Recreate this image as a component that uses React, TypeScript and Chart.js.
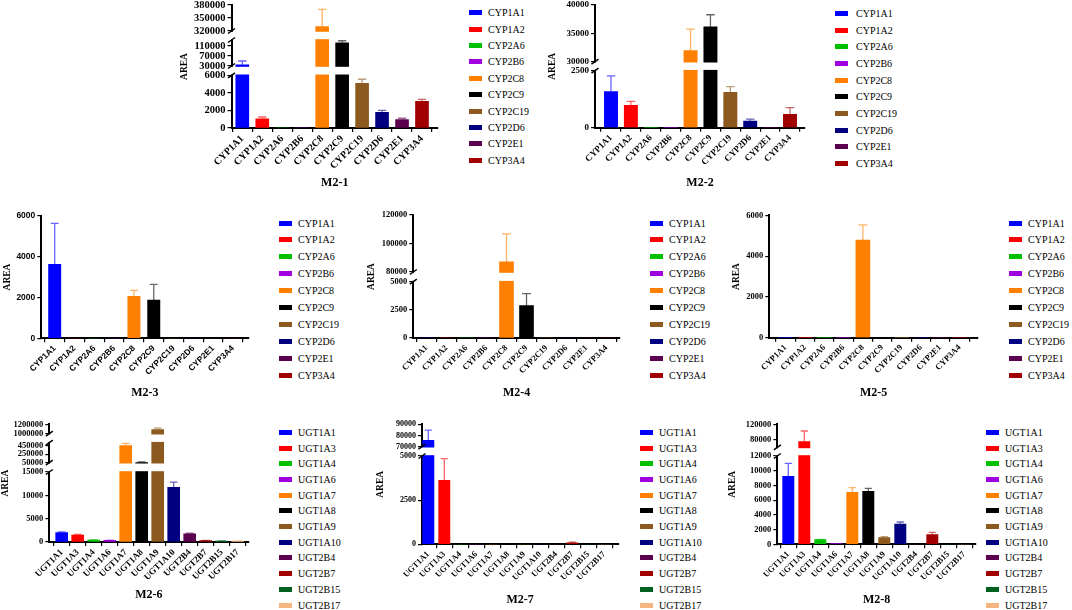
import React, { useEffect, useRef } from "react";
import { Chart, registerables, LinearScale } from "chart.js";

Chart.register(...registerables);

// ---------- data ----------
const cypGenes = ["CYP1A1", "CYP1A2", "CYP2A6", "CYP2B6", "CYP2C8", "CYP2C9", "CYP2C19", "CYP2D6", "CYP2E1", "CYP3A4"];
const ugtGenes = ["UGT1A1", "UGT1A3", "UGT1A4", "UGT1A6", "UGT1A7", "UGT1A8", "UGT1A9", "UGT1A10", "UGT2B4", "UGT2B7", "UGT2B15", "UGT2B17"];

const cypColors = ["#0000FF", "#FF0000", "#00C000", "#A000E0", "#FF8000", "#000000", "#8C5A1E", "#000080", "#5C0050", "#A00000"];
const ugtColors = ["#0000FF", "#FF0000", "#00C000", "#A000E0", "#FF8000", "#000000", "#8C5A1E", "#000080", "#5C0050", "#A00000", "#006020", "#F4B67E"];

const m21Area = [35000, 1050, 0, 0, 330000, 123000, 5100, 1770, 960, 3040];
const m21Sd = [15000, 200, 0, 0, 40000, 8000, 450, 230, 150, 230];
const m21Ticks = [0, 2000, 4000, 6000, 30000, 70000, 110000, 320000, 350000, 380000];
const m21Ranges = [[0, 6000], [30000, 134000], [320000, 380000]];

const m22Area = [1580, 980, 0, 0, 31940, 36170, 1550, 285, 0, 590];
const m22Sd = [690, 175, 0, 0, 3820, 2110, 250, 95, 0, 290];
const m22Ticks = [0, 2500, 30000, 35000, 40000];
const m22Ranges = [[0, 2500], [30000, 40000]];

const m23Area = [3620, 0, 0, 0, 2054, 1875, 0, 0, 0, 0];
const m23Sd = [2005, 0, 0, 0, 294, 766, 0, 0, 0, 0];
const m23Ticks = [0, 2000, 4000, 6000];
const m23Ranges = [[0, 6000]];

const m24Area = [0, 0, 0, 0, 87060, 2870, 0, 0, 0, 0];
const m24Sd = [0, 0, 0, 0, 19700, 1065, 0, 0, 0, 0];
const m24Ticks = [0, 2500, 5000, 80000, 100000, 120000];
const m24Ranges = [[0, 5000], [80000, 120000]];

const m25Area = [0, 0, 0, 0, 4790, 0, 0, 0, 0, 0];
const m25Sd = [0, 0, 0, 0, 736, 0, 0, 0, 0, 0];
const m25Ticks = [0, 2000, 4000, 6000];
const m25Ranges = [[0, 6000]];

const m26Area = [2000, 1500, 430, 350, 450000, 54000, 1090000, 11700, 1750, 290, 210, 200];
const m26Sd = [150, 150, 60, 50, 55000, 12000, 28000, 1150, 120, 40, 50, 40];
const m26Ticks = [0, 5000, 10000, 15000, 50000, 250000, 450000, 1000000, 1200000];
const m26Ranges = [[0, 15000], [50000, 520000], [1000000, 1200000]];

const m27Area = [75760, 3620, 0, 0, 0, 0, 0, 0, 0, 80, 0, 0];
const m27Sd = [9090, 1230, 0, 0, 0, 0, 0, 0, 0, 40, 0, 0];
const m27Ticks = [0, 2500, 5000, 70000, 80000, 90000];
const m27Ranges = [[0, 5000], [70000, 90000]];

const m28Area = [9240, 74800, 630, 45, 7060, 7200, 900, 2760, 0, 1310, 0, 0];
const m28Sd = [1760, 27800, 40, 0, 640, 400, 140, 270, 0, 320, 0, 0];
const m28Ticks = [0, 2000, 4000, 6000, 8000, 10000, 12000, 80000, 120000];
const m28Ranges = [[0, 12000], [60000, 120000]];

// ---------- layout ----------
const panels = [
  { title: "M2-1", genes: cypGenes, colors: cypColors, area: m21Area, sd: m21Sd, ticks: m21Ticks, ranges: m21Ranges,
    axisX: 231.5, rightX: 438, topY: 5, zeroY: 128, segPx: [[128, 75.3], [66, 40], [31, 5]],
    c0: 242.3, cLast: 422, barW: 13, areaX: 185, titleY: 183, tickSize: 10.5, labelSize: 10, sans: false,
    legend: { boxX: 469, textX: 488, y0: 12.7, dy: 16.4 } },
  { title: "M2-2", genes: cypGenes, colors: cypColors, area: m22Area, sd: m22Sd, ticks: m22Ticks, ranges: m22Ranges,
    axisX: 595, rightX: 805, topY: 5, zeroY: 127.7, segPx: [[127.7, 70.7], [61.7, 5]],
    c0: 611, cLast: 790, barW: 13.3, areaX: 553, titleY: 183, tickSize: 9, labelSize: 9, sans: false,
    legend: { boxX: 835, textX: 856, y0: 13.3, dy: 16.7 } },
  { title: "M2-3", genes: cypGenes, colors: cypColors, area: m23Area, sd: m23Sd, ticks: m23Ticks, ranges: m23Ranges,
    axisX: 41.3, rightX: 248.3, topY: 215.7, zeroY: 338.3, segPx: [[338.3, 215.7]],
    c0: 54.7, cLast: 233, barW: 12.3, areaX: 8, titleY: 393, tickSize: 8.5, labelSize: 8.5, sans: true,
    legend: { boxX: 279, textX: 298, y0: 223, dy: 16.9 } },
  { title: "M2-4", genes: cypGenes, colors: cypColors, area: m24Area, sd: m24Sd, ticks: m24Ticks, ranges: m24Ranges,
    axisX: 413.3, rightX: 620, topY: 215, zeroY: 338, segPx: [[338, 281.7], [272, 215]],
    c0: 426.5, cLast: 606.5, barW: 14, areaX: 372, titleY: 393, tickSize: 8.5, labelSize: 8.5, sans: false,
    legend: { boxX: 650, textX: 669, y0: 223, dy: 16.9 } },
  { title: "M2-5", genes: cypGenes, colors: cypColors, area: m25Area, sd: m25Sd, ticks: m25Ticks, ranges: m25Ranges,
    axisX: 769.3, rightX: 978, topY: 215.3, zeroY: 337.7, segPx: [[337.7, 215.3]],
    c0: 785.5, cLast: 959.6, barW: 14, areaX: 737, titleY: 393, tickSize: 8.5, labelSize: 8.5, sans: false,
    legend: { boxX: 1009, textX: 1028, y0: 223, dy: 16.9 } },
  { title: "M2-6", genes: ugtGenes, colors: ugtColors, area: m26Area, sd: m26Sd, ticks: m26Ticks, ranges: m26Ranges,
    axisX: 49.3, rightX: 248.3, topY: 424.3, zeroY: 542, segPx: [[542, 472], [462.7, 442.7], [433.7, 424.3]],
    c0: 61.7, cLast: 237.7, barW: 12, areaX: 6, titleY: 595, tickSize: 8.5, labelSize: 9, sans: false,
    legend: { boxX: 279, textX: 298, y0: 432.3, dy: 15.7 } },
  { title: "M2-7", genes: ugtGenes, colors: ugtColors, area: m27Area, sd: m27Sd, ticks: m27Ticks, ranges: m27Ranges,
    axisX: 422, rightX: 618.3, topY: 424.3, zeroY: 544.3, segPx: [[544.3, 456], [446.7, 424.3]],
    c0: 428.3, cLast: 604.3, barW: 11.3, areaX: 381, titleY: 600, tickSize: 8, labelSize: 8.5, sans: false,
    legend: { boxX: 640, textX: 659, y0: 432.3, dy: 15.7 } },
  { title: "M2-8", genes: ugtGenes, colors: ugtColors, area: m28Area, sd: m28Sd, ticks: m28Ticks, ranges: m28Ranges,
    axisX: 777.3, rightX: 976, topY: 424.3, zeroY: 544.3, segPx: [[544.3, 456], [447.4, 424.3]],
    c0: 788.3, cLast: 964.3, barW: 11.3, areaX: 733, titleY: 599.5, tickSize: 8.5, labelSize: 8.5, sans: false,
    legend: { boxX: 986, textX: 1005, y0: 432.3, dy: 15.7 } },
];

const SERIF = "'Liberation Serif', 'Times New Roman', Times, serif";
const SANS = "'Liberation Sans', Arial, Helvetica, sans-serif";

// ---------- broken (segmented) linear scale ----------
class BrokenLinearScale extends (LinearScale as any) {
  static id = "brokenLinear";
  static defaults = { ...(LinearScale as any).defaults };

  _knots() {
    const o: any = this.options;
    const pts: number[][] = [];
    for (let i = 0; i < o.segMin.length; i++) {
      pts.push([o.segMin[i], o.segFrom[i]]);
      pts.push([o.segMax[i], o.segTo[i]]);
    }
    return pts;
  }
  determineDataLimits() {
    const o: any = this.options;
    this.min = o.segMin[0];
    this.max = o.segMax[o.segMax.length - 1];
  }
  buildTicks() {
    const o: any = this.options;
    return o.tickValues.map((v: number) => ({ value: v }));
  }
  getPixelForValue(value: number) {
    const pts = this._knots();
    let k = 0;
    while (k < pts.length - 2 && value > pts[k + 1][0]) k++;
    const [v0, f0] = pts[k];
    const [v1, f1] = pts[k + 1];
    const f = v1 === v0 ? f0 : f0 + ((value - v0) * (f1 - f0)) / (v1 - v0);
    return this.bottom - f * (this.bottom - this.top);
  }
  getValueForPixel(pixel: number) {
    const f = (this.bottom - pixel) / (this.bottom - this.top);
    const pts = this._knots();
    let k = 0;
    while (k < pts.length - 2 && f > pts[k + 1][1]) k++;
    const [v0, f0] = pts[k];
    const [v1, f1] = pts[k + 1];
    return f1 === f0 ? v0 : v0 + ((f - f0) * (v1 - v0)) / (f1 - f0);
  }
}
Chart.register(BrokenLinearScale as any);

function hexToRgba(hex: string, a: number) {
  const n = parseInt(hex.slice(1), 16);
  return `rgba(${(n >> 16) & 255},${(n >> 8) & 255},${n & 255},${a})`;
}

const overlayPlugin = {
  id: "brokenOverlay",
  afterDatasetsDraw(chart: any, _args: any, opts: any) {
    const ctx = chart.ctx;
    const y = chart.scales.y;
    const area = chart.chartArea;
    const o = y.options;
    const segMin = o.segMin;
    const segMax = o.segMax;
    ctx.save();
    // white gaps between segments
    for (let i = 0; i < segMin.length - 1; i++) {
      const yl = y.getPixelForValue(segMax[i]);
      const yh = y.getPixelForValue(segMin[i + 1]);
      ctx.fillStyle = "#ffffff";
      ctx.fillRect(area.left - 2.5, yh + 0.8, area.right - area.left + 5, yl - yh - 1.6);
    }
    // error bars (upper)
    const meta = chart.getDatasetMeta(0);
    const vals = opts.values;
    const sds = opts.errors;
    const cols = opts.colors;
    meta.data.forEach((bar: any, i: number) => {
      const v = vals[i];
      const e = sds[i];
      if (!v || !e) return;
      const y1 = y.getPixelForValue(v);
      const y2 = y.getPixelForValue(v + e);
      const half = opts.cap;
      ctx.strokeStyle = hexToRgba(cols[i], 0.6);
      ctx.lineWidth = 1.3;
      ctx.beginPath();
      ctx.moveTo(bar.x, y1);
      ctx.lineTo(bar.x, y2);
      ctx.moveTo(bar.x - half, y2);
      ctx.lineTo(bar.x + half, y2);
      ctx.stroke();
    });
    // break marks on the axis
    ctx.strokeStyle = "#000";
    ctx.lineWidth = 1.5;
    for (let i = 0; i < segMin.length - 1; i++) {
      const ys = [y.getPixelForValue(segMax[i]), y.getPixelForValue(segMin[i + 1])];
      ys.forEach((yy) => {
        ctx.beginPath();
        ctx.moveTo(area.left - 3.5, yy + 2.5);
        ctx.lineTo(area.left + 3.5, yy - 2.5);
        ctx.stroke();
      });
    }
    ctx.restore();
  },
};

function Panel({ p }: { p: any }) {
  const ref = useRef<HTMLCanvasElement | null>(null);

  const yTitleLH = 9.5 * 1.2;
  const xTitleLH = 12 * 1.2;
  const canvasLeft = Math.floor(p.areaX - yTitleLH / 2);
  const canvasTop = Math.floor(p.topY - 10);
  const xScaleBottom = p.titleY + xTitleLH / 2;
  const width = Math.ceil(p.rightX + 4 - canvasLeft);
  const height = Math.ceil(xScaleBottom + 2 - canvasTop);
  const padTop = p.topY - canvasTop;
  const padRight = width - (p.rightX - canvasLeft);
  const padLeft = p.areaX - yTitleLH / 2 - canvasLeft;
  const padBottom = height - (xScaleBottom - canvasTop);
  const yWidth = p.axisX - canvasLeft - padLeft;
  const xHeight = xScaleBottom - p.zeroY;

  useEffect(() => {
    if (!ref.current) return;
    const H = p.zeroY - p.topY;
    const segFrom = p.segPx.map((s: number[]) => (p.zeroY - s[0]) / H);
    const segTo = p.segPx.map((s: number[]) => (p.zeroY - s[1]) / H);
    const n = p.genes.length;
    const step = (p.cLast - p.c0) / (n - 1);
    const xMin = -(p.c0 - p.axisX) / step;
    const xMax = n - 1 + (p.rightX - p.cLast) / step;
    const tickFamily = p.sans ? SANS : SERIF;

    const chart = new Chart(ref.current, {
      type: "bar",
      data: {
        datasets: [
          {
            data: p.genes.map((_g: string, i: number) => ({ x: i, y: p.area[i] })),
            backgroundColor: p.colors,
            borderWidth: 0,
            barThickness: p.barW,
          },
        ],
      },
      options: {
        responsive: false,
        animation: false,
        events: [],
        devicePixelRatio: window.devicePixelRatio || 1,
        layout: { autoPadding: false, padding: { top: padTop, right: padRight, bottom: padBottom, left: padLeft } },
        plugins: {
          legend: { display: false },
          tooltip: { enabled: false },
          title: { display: false },
          brokenOverlay: { values: p.area, errors: p.sd, colors: p.colors, cap: p.barW * 0.32 },
        } as any,
        scales: {
          x: {
            type: "linear",
            min: xMin,
            max: xMax,
            bounds: "data",
            offset: false,
            afterBuildTicks: (s: any) => {
              s.ticks = p.genes.map((_g: string, i: number) => ({ value: i }));
            },
            afterFit: (s: any) => {
              s.height = xHeight;
            },
            grid: { display: true, drawOnChartArea: false, drawTicks: true, tickLength: 4, color: "#000", lineWidth: 1.2 },
            border: { display: true, color: "#000", width: 2 },
            ticks: {
              autoSkip: false,
              minRotation: 45,
              maxRotation: 45,
              padding: 1,
              color: "#000",
              font: { family: tickFamily, size: p.labelSize, weight: "bold" },
              callback: (v: any) => p.genes[Math.round(Number(v))] ?? "",
            },
            title: {
              display: true,
              text: p.title,
              color: "#000",
              padding: 0,
              font: { family: SERIF, size: 12, weight: "bold" },
            },
          },
          y: {
            type: "brokenLinear" as any,
            position: "left",
            segMin: p.ranges.map((r: number[]) => r[0]),
            segMax: p.ranges.map((r: number[]) => r[1]),
            segFrom,
            segTo,
            tickValues: p.ticks,
            afterFit: (s: any) => {
              s.width = yWidth;
            },
            grid: { display: true, drawOnChartArea: false, drawTicks: true, tickLength: 4, color: "#000", lineWidth: 1.2 },
            border: { display: true, color: "#000", width: 2 },
            ticks: {
              autoSkip: false,
              padding: 2,
              color: "#000",
              font: { family: tickFamily, size: p.tickSize, weight: "bold" },
              callback: (v: any) => String(v),
            },
            title: {
              display: true,
              text: "AREA",
              color: "#000",
              padding: 0,
              font: { family: SERIF, size: 9.5, weight: "bold" },
            },
          } as any,
        },
      },
      plugins: [overlayPlugin as any],
    } as any);
    return () => chart.destroy();
  }, []);

  return (
    <>
      <canvas
        ref={ref}
        width={width}
        height={height}
        style={{ position: "absolute", left: canvasLeft, top: canvasTop, width, height }}
      />
      {p.genes.map((g: string, i: number) => {
        const yc = p.legend.y0 + i * p.legend.dy;
        return (
          <React.Fragment key={g}>
            <div
              style={{
                position: "absolute",
                left: p.legend.boxX,
                top: yc - 2.5,
                width: 12.5,
                height: 5,
                background: p.colors[i],
              }}
            />
            <div
              style={{
                position: "absolute",
                left: p.legend.textX,
                top: yc - 6.5,
                height: 13,
                lineHeight: "13px",
                fontFamily: SERIF,
                fontSize: 10,
                color: "#000",
                whiteSpace: "nowrap",
              }}
            >
              {g}
            </div>
          </React.Fragment>
        );
      })}
    </>
  );
}

export default function App() {
  return (
    <div
      style={{
        position: "fixed",
        left: 0,
        top: 0,
        width: 1072,
        height: 610,
        overflow: "hidden",
        background: "#fff",
      }}
    >
      {panels.map((p) => (
        <Panel key={p.title} p={p} />
      ))}
    </div>
  );
}
